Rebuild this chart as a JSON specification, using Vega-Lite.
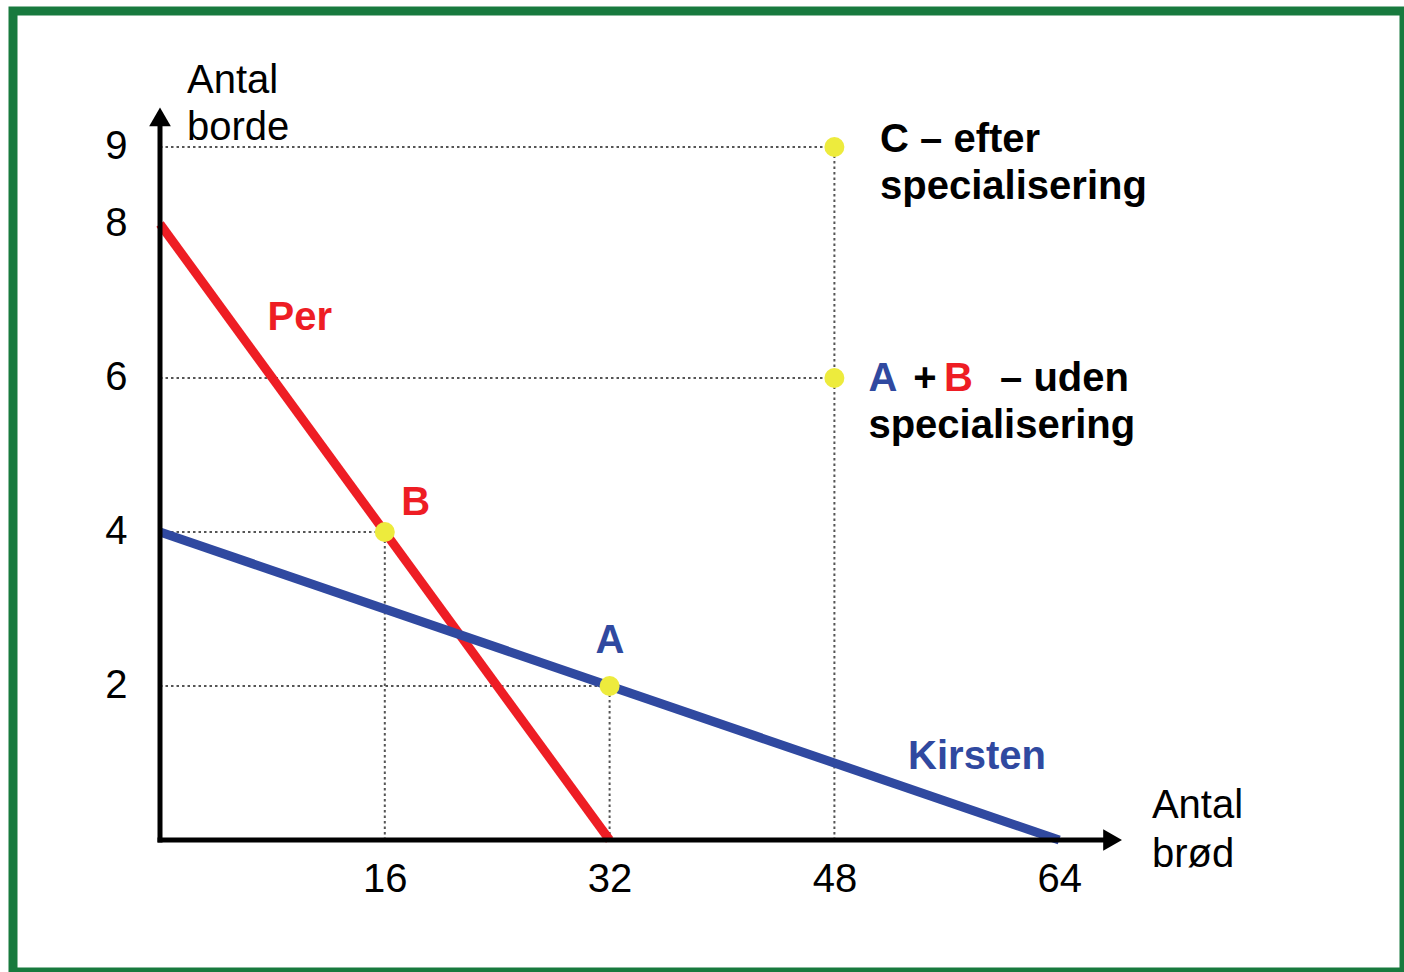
{
  "$schema": "https://vega.github.io/schema/vega-lite/v6.json",
  "width": 1391,
  "height": 961,
  "autosize": {"type": "none"},
  "padding": {"left": 13, "top": 11, "right": 0, "bottom": 0},
  "background": "white",
  "config": {
    "view": {"stroke": "#187A3E", "strokeWidth": 9},
    "font": "Liberation Sans"
  },
  "datasets": {
    "guides": [
      {"x": 0, "y": 9, "x2": 48, "y2": 9},
      {"x": 0, "y": 6, "x2": 48, "y2": 6},
      {"x": 0, "y": 4, "x2": 16, "y2": 4},
      {"x": 0, "y": 2, "x2": 32, "y2": 2},
      {"x": 48, "y": 0, "x2": 48, "y2": 9},
      {"x": 16, "y": 0, "x2": 16, "y2": 4},
      {"x": 32, "y": 0, "x2": 32, "y2": 2}
    ],
    "ppf": [
      {"who": "Per", "c": "r", "x": 0, "y": 8},
      {"who": "Per", "c": "r", "x": 32, "y": 0},
      {"who": "Kirsten", "c": "b", "x": 0, "y": 4},
      {"who": "Kirsten", "c": "b", "x": 64, "y": 0}
    ],
    "axislines": [
      {"x": 0, "y": 0, "x2": 67.3, "y2": 0},
      {"x": 0, "y": 0, "x2": 0, "y2": 9.25}
    ],
    "arrows": [
      {"x": 0, "y": 9.39, "dir": "up"},
      {"x": 67.8, "y": 0, "dir": "right"}
    ],
    "points": [
      {"name": "B", "x": 16, "y": 4},
      {"name": "A", "x": 32, "y": 2},
      {"name": "A+B", "x": 48, "y": 6},
      {"name": "C", "x": 48, "y": 9}
    ],
    "labels_regular": [
      {"x": 1.92, "y": 9.701, "text": "Antal"},
      {"x": 1.92, "y": 9.091, "text": "borde"},
      {"x": 70.6, "y": 0.286, "text": "Antal"},
      {"x": 70.6, "y": -0.351, "text": "brød"}
    ],
    "labels_center": [
      {"x": 9.95, "y": 6.623, "text": "Per", "c": "r"},
      {"x": 18.2, "y": 4.22, "text": "B", "c": "r"},
      {"x": 32.03, "y": 2.429, "text": "A", "c": "b"},
      {"x": 58.15, "y": 0.922, "text": "Kirsten", "c": "b"}
    ],
    "labels_left": [
      {"x": 51.25, "y": 8.935, "text": "C – efter", "c": "k"},
      {"x": 51.25, "y": 8.325, "text": "specialisering", "c": "k"},
      {"x": 50.42, "y": 5.831, "text": "A", "c": "b"},
      {"x": 53.62, "y": 5.831, "text": "+", "c": "k"},
      {"x": 55.8, "y": 5.831, "text": "B", "c": "r"},
      {"x": 59.79, "y": 5.831, "text": "– uden", "c": "k"},
      {"x": 50.42, "y": 5.221, "text": "specialisering", "c": "k"}
    ]
  },
  "encoding": {
    "x": {
      "field": "x",
      "type": "quantitative",
      "scale": {"domain": [-10.463, 88.541], "nice": false, "zero": false},
      "axis": {
        "values": [16, 32, 48, 64],
        "title": null,
        "domain": false,
        "ticks": false,
        "tickSize": 0,
        "grid": false,
        "offset": -132,
        "labelPadding": 39,
        "labelBaseline": "middle",
        "labelFontSize": 40,
        "labelFont": "Liberation Sans",
        "labelColor": "#000000",
        "labelFlush": false,
        "labelOverlap": false
      }
    },
    "y": {
      "field": "y",
      "type": "quantitative",
      "scale": {"domain": [-1.7143, 10.766], "nice": false, "zero": false},
      "axis": {
        "values": [2, 4, 6, 8, 9],
        "title": null,
        "domain": false,
        "ticks": false,
        "tickSize": 0,
        "grid": false,
        "offset": -147,
        "labelPadding": 33,
        "labelBaseline": "middle",
        "labelFontSize": 40,
        "labelFont": "Liberation Sans",
        "labelColor": "#000000",
        "labelFlush": false,
        "labelOverlap": false
      }
    }
  },
  "layer": [
    {
      "data": {"name": "guides"},
      "mark": {"type": "rule", "stroke": "#555555", "strokeWidth": 2, "strokeDash": [2.5, 3]},
      "encoding": {"x2": {"field": "x2"}, "y2": {"field": "y2"}}
    },
    {
      "data": {"name": "ppf"},
      "mark": {"type": "line", "strokeWidth": 9, "strokeCap": "butt"},
      "encoding": {
        "color": {
          "field": "c",
          "type": "nominal",
          "scale": {"domain": ["k", "r", "b"], "range": ["#000000", "#EE1D24", "#3049A0"]},
          "legend": null
        },
        "detail": {"field": "who"}
      }
    },
    {
      "data": {"name": "axislines"},
      "mark": {"type": "rule", "stroke": "#000000", "strokeWidth": 5, "strokeCap": "square"},
      "encoding": {"x2": {"field": "x2"}, "y2": {"field": "y2"}}
    },
    {
      "data": {"name": "arrows"},
      "mark": {"type": "point", "filled": true, "opacity": 1, "color": "#000000", "size": 470},
      "encoding": {
        "shape": {
          "field": "dir",
          "type": "nominal",
          "scale": {"domain": ["up", "right"], "range": ["triangle-up", "triangle-right"]},
          "legend": null
        }
      }
    },
    {
      "data": {"name": "points"},
      "mark": {"type": "point", "shape": "circle", "filled": true, "opacity": 1, "color": "#EDEB3D", "size": 400}
    },
    {
      "data": {"name": "labels_regular"},
      "mark": {"type": "text", "align": "left", "baseline": "alphabetic", "fontSize": 40, "font": "Liberation Sans", "color": "#000000"},
      "encoding": {"text": {"field": "text"}}
    },
    {
      "data": {"name": "labels_center"},
      "mark": {"type": "text", "align": "center", "baseline": "alphabetic", "fontSize": 40, "fontWeight": "bold", "font": "Liberation Sans"},
      "encoding": {
        "text": {"field": "text"},
        "color": {"field": "c", "type": "nominal", "legend": null}
      }
    },
    {
      "data": {"name": "labels_left"},
      "mark": {"type": "text", "align": "left", "baseline": "alphabetic", "fontSize": 40, "fontWeight": "bold", "font": "Liberation Sans"},
      "encoding": {
        "text": {"field": "text"},
        "color": {"field": "c", "type": "nominal", "legend": null}
      }
    }
  ]
}
